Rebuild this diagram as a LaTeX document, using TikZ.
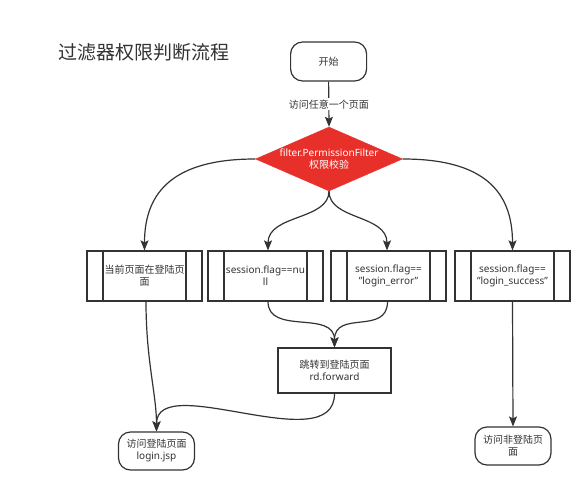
\documentclass[tikz,border=0pt]{standalone}
\usepackage{fontspec}
\setmainfont{Noto Sans}
\newfontfamily\cjk{Noto Sans CJK SC}
\usetikzlibrary{arrows.meta,shapes.geometric}
\definecolor{ink}{HTML}{333333}
\definecolor{dred}{RGB}{232,48,43}
\newcommand{\sq}{\symbol{34}}
\begin{document}
\begin{tikzpicture}[x=1pt,y=-1pt,
  every node/.style={text=ink, font=\fontsize{10}{12}\selectfont},
  term/.style={draw=ink, line width=1.2pt, rounded corners=12pt, minimum width=76pt, minimum height=39pt, inner sep=0pt, align=center},
  proc/.style={draw=ink, line width=1.2pt, minimum width=115pt, minimum height=50pt, inner sep=0pt, align=center,
    path picture={
      \draw[ink, line width=1.2pt] ([xshift=16pt]path picture bounding box.north west) -- ([xshift=16pt]path picture bounding box.south west);
      \draw[ink, line width=1.2pt] ([xshift=-16pt]path picture bounding box.north east) -- ([xshift=-16pt]path picture bounding box.south east);}},
  plainbox/.style={draw=ink, line width=1.2pt, minimum width=113pt, minimum height=45pt, inner sep=0pt, align=center},
  arr/.style={draw=ink, line width=1.2pt, -{Stealth[length=10pt,width=8pt,inset=2pt]}}]
\useasboundingbox[fill=white] (0,0) rectangle (588,486);

\node[font=\cjk\fontsize{19}{22}\selectfont] (title) at (143.5,52) {过滤器权限判断流程};
\node[term] (start) at (328.6,61.5) {\cjk 开始};
\node[diamond, fill=dred, draw=dred, minimum width=147pt, minimum height=64pt, inner sep=0pt] (dec) at (329,159) {};
\node[text=white, align=center] (dect) at (dec.center) {filter.PermissionFilter\\{\cjk 权限校验}};

\node[proc] (b1) at (144.5,276) {{\cjk 当前页面在登陆页}\\{\cjk 面}};
\node[proc] (b2) at (265.5,276) {session.flag==nu\\ll};
\node[proc] (b3) at (388.5,276) {session.flag==\\\sq login\_error\sq};
\node[proc] (b4) at (512.5,276) {session.flag==\\\sq login\_success\sq};

\node[plainbox] (b5) at (334.5,370.5) {{\cjk 跳转到登陆页面}\\rd.forward};
\node[term, minimum height=38pt] (login) at (156.5,451) {{\cjk 访问登陆页面}\\login.jsp};
\node[term, minimum height=38pt] (other) at (513,446) {{\cjk 访问非登陆页}\\{\cjk 面}};

\draw[arr] (start.south) -- node[fill=white, inner sep=1.5pt] (lab) {\cjk 访问任意一个页面} (dec.north);
\draw[arr] (dec.west) .. controls +(-80,0) and +(0,-60) .. (b1.north);
\draw[arr] (dec.east) .. controls +(80,0) and +(0,-60) .. (b4.north);
\draw[arr] (dec.south) .. controls +(0,29) and +(0,-36) .. ([xshift=2.5pt]b2.north);
\draw[arr] (dec.south) .. controls +(0,29) and +(0,-36) .. ([xshift=-1.5pt]b3.north);
\draw[arr] ([xshift=2.5pt]b2.south) .. controls +(0,34) and +(0,-38) .. (b5.north);
\draw[arr] ([xshift=-1pt]b3.south) .. controls +(0,34) and +(0,-38) .. (b5.north);
\draw[arr] ([xshift=1.5pt]b1.south) .. controls +(0,59) and +(0,-37) .. (login.north);
\draw[arr] (b5.south) .. controls +(0,67) and +(0,-62) .. (login.north);
\draw[arr] (b4.south) -- (other.north);
\end{tikzpicture}
\end{document}
